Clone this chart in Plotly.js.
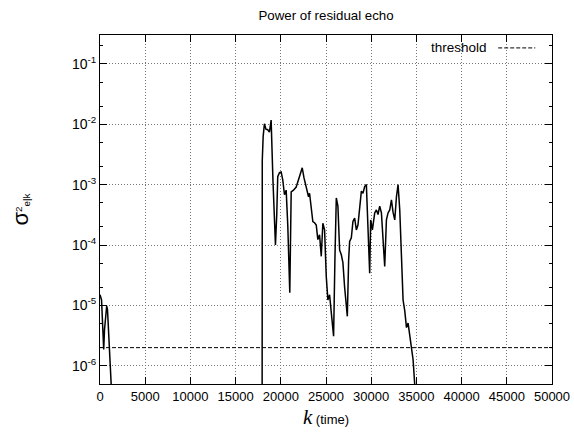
<!DOCTYPE html>
<html>
<head>
<meta charset="utf-8">
<script src="https://cdn.plot.ly/plotly-3.0.1.min.js"></script>
<style>html,body{margin:0;padding:0;background:#fff;}#chart{width:574px;height:432px;}</style>
</head>
<body>
<div id="chart"></div>
<script>
// residual echo power: time index k and sigma^2_{e|k}
const kStart = [0, 170, 410, 500, 740, 830, 1300];
const powStart = [1.5e-5, 1.23e-5, 1.86e-6, 4.0e-6, 9.8e-6, 8.5e-6, 3.2e-7];

const kMain = [17930, 17950, 18050, 18110, 18188, 18354, 18553, 18742, 18930, 19130, 19408, 19552, 19662, 19851, 20040, 20217, 20406, 20594, 20772, 20994, 21149, 21404, 21703, 21958, 22180, 22369, 22568, 22812, 23067, 23180, 23544, 23733, 23921, 24099, 24287, 24476, 24653, 24842, 25030, 25208, 25396, 25585, 25696, 25840, 25984, 26062, 26139, 26317, 26505, 26694, 26871, 27060, 27248, 27359, 27503, 27614, 27803, 27980, 28169, 28357, 28535, 28723, 28912, 29089, 29278, 29466, 29644, 29832, 29943, 30132, 30387, 30575, 30753, 30941, 31130, 31307, 31496, 31684, 31862, 32050, 32239, 32416, 32605, 32793, 32971, 33159, 33348, 33525, 33714, 33902, 34080, 34268, 34457, 34634, 34823, 35000];
const powMain = [1e-8, 2.5e-3, 6.3e-3, 8.7e-3, 1.02e-2, 8.3e-3, 8.1e-3, 7.4e-3, 1.17e-2, 1.2e-3, 1.0e-4, 3.2e-4, 1.35e-3, 1.58e-3, 1.62e-3, 1.2e-3, 6.8e-4, 8.1e-4, 2.1e-4, 1.62e-5, 7.6e-4, 8.1e-4, 9.1e-4, 1.2e-3, 1.62e-3, 1.9e-3, 1.29e-3, 9.1e-4, 6.3e-4, 7.2e-4, 2.45e-4, 2.34e-4, 2.14e-4, 1.23e-4, 1.48e-4, 6.5e-5, 2.3e-4, 1.78e-4, 3.0e-5, 1.23e-5, 1.5e-5, 7.6e-6, 4.5e-6, 3.1e-6, 5.6e-5, 3.8e-4, 6.0e-4, 4.4e-4, 8.3e-5, 6.9e-5, 5.1e-5, 2.0e-5, 1.1e-5, 6.6e-6, 5.6e-5, 1.15e-4, 1.32e-4, 2.45e-4, 2.8e-4, 1.78e-4, 2.14e-4, 4.4e-4, 7.8e-4, 7.2e-4, 9.3e-4, 1.0e-3, 2.0e-4, 3.4e-5, 2.6e-4, 1.78e-4, 3.4e-4, 3.8e-4, 3.2e-4, 4.4e-4, 3.4e-4, 9.5e-5, 4.4e-5, 2.6e-4, 3.4e-4, 3.8e-4, 5.6e-4, 3.5e-4, 2.6e-4, 6.3e-4, 1.0e-3, 3.8e-4, 6.5e-5, 1.23e-5, 8.1e-6, 4.3e-6, 5.1e-6, 3.2e-6, 2.3e-6, 1.26e-6, 4.7e-7, 1e-7];

const thresholdValue = 2e-6;
const thresholdK = [0, 50000];

const xTicks = [0, 5000, 10000, 15000, 20000, 25000, 30000, 35000, 40000, 45000, 50000];
const yTicks = [1e-6, 1e-5, 1e-4, 1e-3, 1e-2, 1e-1];
const yTickText = ['10<sup>-6</sup>', '10<sup>-5</sup>', '10<sup>-4</sup>', '10<sup>-3</sup>', '10<sup>-2</sup>', '10<sup>-1</sup>'];
const yMinor = [2e-6, 5e-6, 2e-5, 5e-5, 2e-4, 5e-4, 2e-3, 5e-3, 2e-2, 5e-2, 2e-1];

const k = kStart.concat([null], kMain);
const p = powStart.concat([null], powMain);

const font = 'Liberation Sans, Arial, Helvetica, sans-serif';
const dashStyle = '4px,2px';

const traces = [
  {x: k, y: p, type: 'scatter', mode: 'lines', line: {color: '#000', width: 1.5}, connectgaps: false, hoverinfo: 'skip'},
  {x: thresholdK, y: thresholdK.map(() => thresholdValue), type: 'scatter', mode: 'lines', name: 'threshold', line: {color: '#000', width: 1, dash: dashStyle}}
];

const layout = {
  width: 574, height: 432,
  margin: {l: 100, r: 22, t: 35, b: 48},
  paper_bgcolor: '#fff', plot_bgcolor: '#fff',
  showlegend: false,
  font: {family: font, color: '#000', size: 13},
  title: {text: 'Power of residual echo', x: 0.568, xanchor: 'center', y: 0.965, yanchor: 'middle', font: {size: 13.3, family: font}},
  xaxis: {
    range: [0, 50000], tickvals: xTicks, ticktext: xTicks.map(String),
    ticks: 'inside', ticklen: 7, tickcolor: '#000', mirror: 'allticks',
    showline: true, linecolor: '#000', linewidth: 1,
    showgrid: true, gridcolor: '#777', griddash: '1px,2px', gridwidth: 1,
    zeroline: false, tickfont: {size: 13},
    title: {text: '<span style="font-family:Liberation Serif,serif;font-style:italic;font-size:21px">k</span> (time)', font: {size: 13}, standoff: 12}
  },
  yaxis: {
    type: 'log', range: [Math.log10(5e-7), Math.log10(0.3)],
    tickvals: yTicks, ticktext: yTickText,
    ticks: 'inside', ticklen: 7, tickcolor: '#000', mirror: 'allticks',
    showline: true, linecolor: '#000', linewidth: 1,
    showgrid: true, gridcolor: '#777', griddash: '1px,2px', gridwidth: 1,
    zeroline: false, tickfont: {size: 14},
    minor: {tickmode: 'array', tickvals: yMinor, ticks: 'inside', ticklen: 3, tickcolor: '#000', showgrid: false},
    title: {text: '<span style="font-size:22px">σ</span><sup>2</sup><sub>e|k</sub>', font: {size: 14}, standoff: 40}
  },
  shapes: [
    {type: 'rect', xref: 'paper', yref: 'paper', x0: 0.63, x1: 0.998, y0: 0.948, y1: 0.997, fillcolor: '#fff', line: {width: 0}, layer: 'between'},
    {type: 'line', xref: 'paper', yref: 'paper', x0: 0.881, x1: 0.963, y0: 0.963, y1: 0.963, line: {color: '#000', width: 1, dash: dashStyle}}
  ],
  annotations: [
    {text: 'threshold', xref: 'paper', yref: 'paper', x: 0.86, y: 0.963, xanchor: 'right', yanchor: 'middle', showarrow: false, font: {size: 13.5}}
  ]
};

Plotly.newPlot('chart', traces, layout, {displayModeBar: false, staticPlot: true});
</script>
</body>
</html>
